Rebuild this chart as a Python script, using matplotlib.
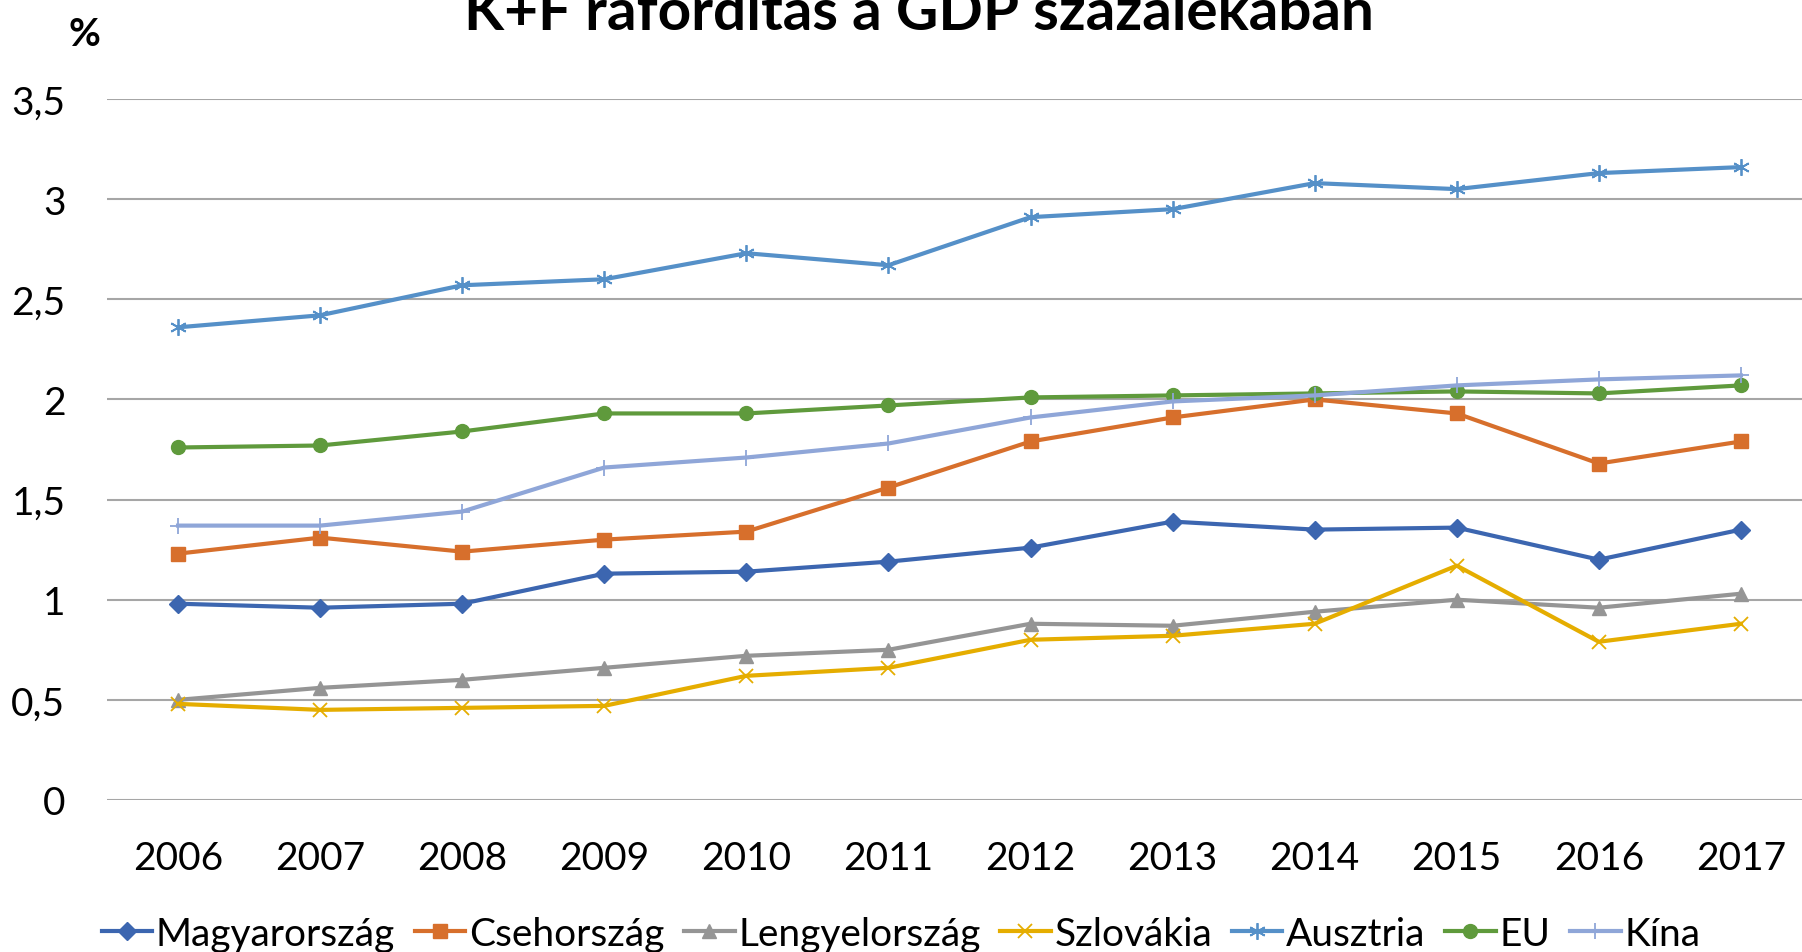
import matplotlib
matplotlib.use("Agg")
import matplotlib.pyplot as plt

plt.rcParams['font.family'] = ['Lato', 'DejaVu Sans']

years = [2006, 2007, 2008, 2009, 2010, 2011, 2012, 2013, 2014, 2015, 2016, 2017]

magyarorszag = [0.98, 0.96, 0.98, 1.13, 1.14, 1.19, 1.26, 1.39, 1.35, 1.36, 1.20, 1.35]
csehorszag = [1.23, 1.31, 1.24, 1.30, 1.34, 1.56, 1.79, 1.91, 2.00, 1.93, 1.68, 1.79]
lengyelorszag = [0.50, 0.56, 0.60, 0.66, 0.72, 0.75, 0.88, 0.87, 0.94, 1.00, 0.96, 1.03]
szlovakia = [0.48, 0.45, 0.46, 0.47, 0.62, 0.66, 0.80, 0.82, 0.88, 1.17, 0.79, 0.88]
ausztria = [2.36, 2.42, 2.57, 2.60, 2.73, 2.67, 2.91, 2.95, 3.08, 3.05, 3.13, 3.16]
eu = [1.76, 1.77, 1.84, 1.93, 1.93, 1.97, 2.01, 2.02, 2.03, 2.04, 2.03, 2.07]
kina = [1.37, 1.37, 1.44, 1.66, 1.71, 1.78, 1.91, 1.99, 2.02, 2.07, 2.10, 2.12]

names = ["Magyarország", "Csehország", "Lengyelország", "Szlovákia", "Ausztria", "EU", "Kína"]
series = [magyarorszag, csehorszag, lengyelorszag, szlovakia, ausztria, eu, kina]
colors = ["#3c66b0", "#d76f2c", "#959595", "#e5ad00", "#5590c8", "#5f9a3c", "#8fa6d8"]
markers = ["D", "s", "^", "x", (6, 2, 0), "o", "+"]
msizes = [9, 10, 10, 10, 12, 10, 12]

fig = plt.figure(figsize=(18.02, 9.53), dpi=100)
ax = fig.add_axes([107 / 1802, 1 - 801 / 953, 1 - 107 / 1802, (801 - 100) / 953])

for name, vals, c, m, ms in zip(names, series, colors, markers, msizes):
    if m in ("x", "+") or isinstance(m, tuple):
        ax.plot(years, vals, color=c, lw=3, marker=m, ms=ms, mew=1.3, label=name)
    else:
        ax.plot(years, vals, color=c, lw=3, marker=m, ms=ms, mec=c, label=name)

ax.set_ylim(0, 3.5)
ax.set_xlim(2005.5, 2017.43)
ax.set_xticks(years)
ax.set_yticks([0, 0.5, 1, 1.5, 2, 2.5, 3, 3.5])
ax.set_yticklabels(["0", "0,5", "1", "1,5", "2", "2,5", "3", "3,5"])
ax.yaxis.grid(True, color="#a6a6a6", lw=1.5)
ax.set_axisbelow(True)
for s in ax.spines.values():
    s.set_visible(False)
ax.tick_params(axis="both", length=0, labelsize=28, colors="black")
ax.tick_params(axis="y", pad=30)
ax.tick_params(axis="x", pad=29)

fig.text(0.51, 1 - 30 / 953, "K+F ráfordítás a GDP százalékában", ha="center", va="baseline",
         fontsize=42, fontweight="bold")
fig.text(84 / 1802, 1 - 46 / 953, "%", ha="center", va="baseline", fontsize=28, fontweight="bold")

fig.legend(loc="center", bbox_to_anchor=(0.5, 1 - 935 / 953), ncol=7, frameon=False,
           fontsize=28, handlelength=1.3, handletextpad=0.1, columnspacing=0.5, borderaxespad=0)

fig.savefig("out.png", dpi=100)
